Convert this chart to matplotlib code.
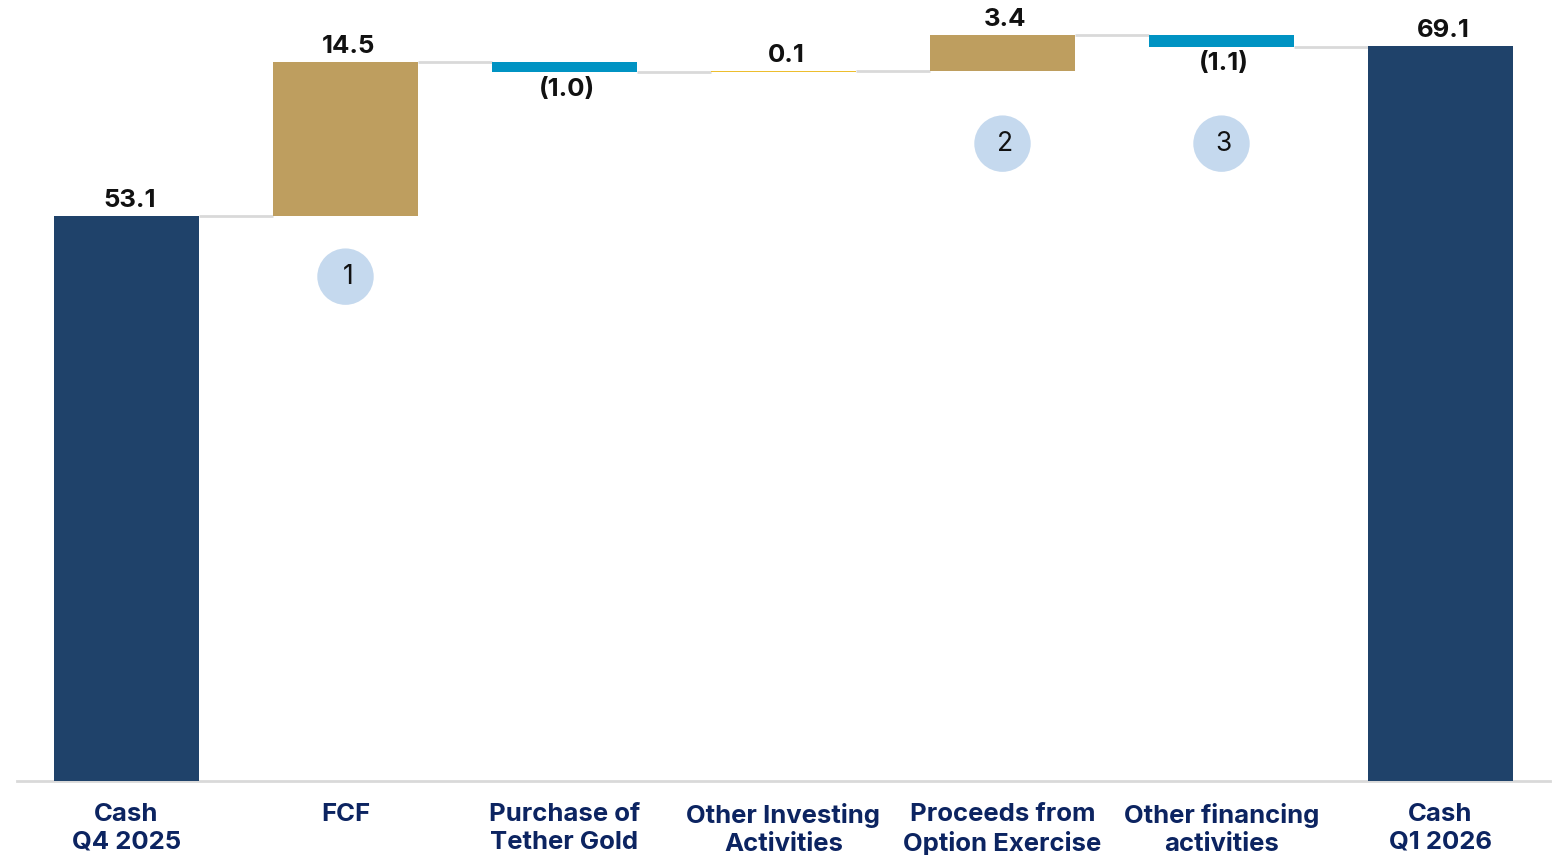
import matplotlib
matplotlib.use('Agg')
import matplotlib.pyplot as plt
import numpy as np

# --- data ---
categories = ['Cash\nQ4 2025', 'FCF', 'Purchase of\nTether Gold', 'Other Investing\nActivities',
              'Proceeds from\nOption Exercise', 'Other financing\nactivities', 'Cash\nQ1 2026']
values = [53.1, 14.5, -1.0, 0.1, 3.4, -1.1, 69.1]
labels = ['53.1', '14.5', '(1.0)', '0.1', '3.4', '(1.1)', '69.1']
kinds = ['total', 'delta', 'delta', 'delta', 'delta', 'delta', 'total']

# numbered callouts: (category index, y value, text)
callouts = [(1, 47.4, '1'), (4, 59.9, '2'), (5, 59.9, '3')]

NAVY = '#1F426A'
TAN = '#BE9E5F'
BLUE = '#0093C3'
SMALL = '#EDBE2E'
LABEL_NAVY = '#0C2461'
GRID = '#D9D9D9'

plt.rcParams['font.family'] = ['Inter', 'DejaVu Sans']

fig = plt.figure(figsize=(15.56, 8.55), dpi=100)
ax = fig.add_axes([17 / 1556, 74 / 855, 1533 / 1556, 781 / 855])

x = np.arange(len(categories))
width = 0.666

bottoms, heights, colors = [], [], []
running = 0.0
for v, k in zip(values, kinds):
    if k == 'total':
        bottoms.append(0)
        heights.append(v)
        colors.append(NAVY)
        running = v
    else:
        if v >= 0:
            bottoms.append(running)
            colors.append(SMALL if v < 0.5 else TAN)
        else:
            bottoms.append(running + v)
            colors.append(BLUE)
        heights.append(abs(v))
        running += v

ax.bar(x, heights, bottom=bottoms, width=width, color=colors, zorder=3)

# connectors
levels = []
running = 0.0
for v, k in zip(values, kinds):
    running = v if k == 'total' else running + v
    levels.append(running)
for i in range(len(values) - 1):
    ax.plot([x[i] + width / 2, x[i + 1] - width / 2], [levels[i], levels[i]],
            color=GRID, lw=2, zorder=2, solid_capstyle='butt')

# value labels
for i, (v, lab) in enumerate(zip(values, labels)):
    top = bottoms[i] + heights[i]
    if v >= 0:
        ax.annotate(lab, (x[i], top), xytext=(2, 3), textcoords='offset points',
                    ha='center', va='bottom', fontsize=18.5, fontweight='bold', color='#111111')
    else:
        ax.annotate(lab, (x[i], bottoms[i]), xytext=(2, -4), textcoords='offset points',
                    ha='center', va='top', fontsize=18.5, fontweight='bold', color='#111111')

# callout circles
for ci, cy, ct in callouts:
    ax.scatter([x[ci]], [cy], s=1650, color='#C5D9EE', zorder=4, edgecolors='none')
    ax.text(x[ci] + 0.01, cy, ct, ha='center', va='center', fontsize=19, color='#111111', zorder=5)

ax.set_xlim(-0.5, len(categories) - 0.5)
ax.set_ylim(0, 73.4)
ax.set_yticks([])
ax.set_xticks(x)
ax.set_xticklabels(categories, fontsize=18.5, fontweight='bold', color=LABEL_NAVY, linespacing=1.25)
ax.tick_params(axis='x', length=0, pad=16)
for s in ['top', 'right', 'left']:
    ax.spines[s].set_visible(False)
ax.spines['bottom'].set_color(GRID)
ax.spines['bottom'].set_linewidth(2)

fig.savefig('out.png', dpi=100)
